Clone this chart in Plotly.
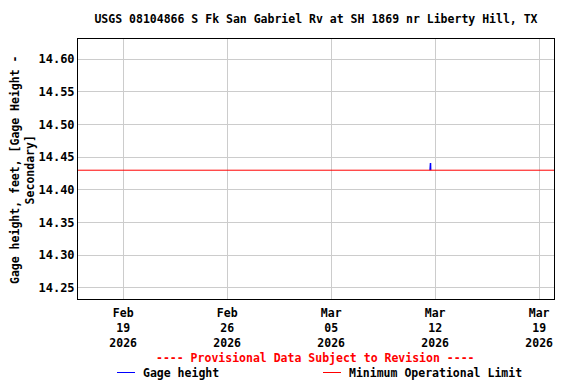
import plotly.graph_objects as go

# Data
gage_times = ["2026-03-11 15:45", "2026-03-11 16:00", "2026-03-11 16:15", "2026-03-11 16:30", "2026-03-11 16:45"]
gage_values = [14.43, 14.435, 14.441, 14.441, 14.43]
min_limit_times = ["2026-02-15 23:00", "2026-03-20 00:00"]
min_limit_values = [14.43, 14.43]
x_tick_vals = ["2026-02-19", "2026-02-26", "2026-03-05", "2026-03-12", "2026-03-19"]
x_tick_text = ["Feb<br>19<br>2026", "Feb<br>26<br>2026", "Mar<br>05<br>2026", "Mar<br>12<br>2026", "Mar<br>19<br>2026"]
y_tick_vals = [14.25, 14.30, 14.35, 14.40, 14.45, 14.50, 14.55, 14.60]
y_tick_text = ["14.25", "14.30", "14.35", "14.40", "14.45", "14.50", "14.55", "14.60"]
legend_names = ["Gage height", "Minimum Operational Limit"]
legend_colors = ["#0000ff", "#ff0000"]

FONT = "DejaVu Sans Mono"
OFF = 8  # page body margin
W, H = 576 - OFF, 384 - OFF
# page-pixel positions of the plot area
PL, PR, PT, PB = 78, 554, 39, 299
L, T = PL - OFF, PT - OFF
R, B = W - (PR - OFF), H - (PB - OFF)
PW, PH = PR - PL, PB - PT

def px_x(p):
    return (p - PL) / PW

def px_y(p):
    return (PB - p) / PH

fig = go.Figure()
fig.add_trace(go.Scatter(x=gage_times, y=gage_values, mode="lines",
                         line=dict(color=legend_colors[0], width=1.5), name=legend_names[0]))
fig.add_trace(go.Scatter(x=min_limit_times, y=min_limit_values, mode="lines",
                         line=dict(color=legend_colors[1], width=1), name=legend_names[1]))

annotations = [dict(text="<b>---- Provisional Data Subject to Revision ----</b>",
                    x=px_x(315), xref="paper", y=px_y(358), yref="paper",
                    xanchor="center", yanchor="middle", showarrow=False,
                    font=dict(family=FONT, size=11.5, color="#ff0000")),
               dict(text="<b>Gage height, feet, [Gage Height -<br>Secondary]</b>",
                    x=px_x(22), xref="paper", y=px_y(170), yref="paper",
                    xanchor="center", yanchor="middle", showarrow=False, textangle=-90,
                    font=dict(family=FONT, size=11.5, color="black"))]
shapes = []
leg_line_x = [(117, 135), (323, 341)]
leg_text_x = [141, 347]
for name, col, (x0, x1), tx in zip(legend_names, legend_colors, leg_line_x, leg_text_x):
    shapes.append(dict(type="line", xref="paper", yref="paper", x0=px_x(x0), x1=px_x(x1),
                       y0=px_y(372.5), y1=px_y(372.5), line=dict(color=col, width=1)))
    annotations.append(dict(text="<b>%s</b>" % name, x=px_x(tx), xref="paper", y=px_y(373), yref="paper",
                            xanchor="left", yanchor="middle", showarrow=False,
                            font=dict(family=FONT, size=11.5, color="black")))

fig.update_layout(
    width=W, height=H,
    margin=dict(l=L, r=R, t=T, b=B, autoexpand=False),
    paper_bgcolor="white", plot_bgcolor="white",
    font=dict(family=FONT, size=12, color="black"),
    title=dict(text="<b>USGS 08104866 S Fk San Gabriel Rv at SH 1869 nr Liberty Hill, TX</b>",
               x=0.5, xref="paper", xanchor="center", y=1 - (19 - OFF)/H, yref="container", yanchor="middle",
               font=dict(family=FONT, size=11.5, color="black")),
    showlegend=False,
    annotations=annotations,
    shapes=shapes,
)

fig.update_xaxes(type="date", range=["2026-02-15 23:00", "2026-03-20 00:00"], automargin=False,
                 tickmode="array", tickvals=x_tick_vals, ticktext=["<b>%s</b>" % t for t in x_tick_text],
                 showgrid=True, gridcolor="#cccccc", gridwidth=1,
                 showline=True, linecolor="black", linewidth=1, mirror=True,
                 ticks="", ticklabelstandoff=3, tickfont=dict(family=FONT, size=11.5), zeroline=False)
fig.update_yaxes(range=[14.2327, 14.631], automargin=False,
                 tickmode="array", tickvals=y_tick_vals, ticktext=["<b>%s</b>" % t for t in y_tick_text],
                 showgrid=True, gridcolor="#cccccc", gridwidth=1,
                 showline=True, linecolor="black", linewidth=1, mirror=True,
                 ticks="", tickfont=dict(family=FONT, size=12), zeroline=False)

fig.write_html("out.html")
